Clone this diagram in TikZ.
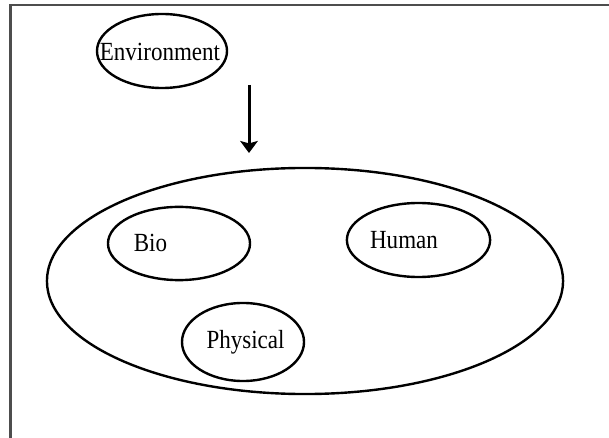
\documentclass[tikz,border=0pt]{standalone}
\usepackage{fontspec}
\setmainfont{Liberation Serif}[FakeStretch=0.88]
\usetikzlibrary{arrows.meta,shapes.geometric}
\definecolor{frameink}{HTML}{4D4D4D}

\begin{document}
\begin{tikzpicture}[x=.025cm,y=-.025cm,
    blob/.style={draw,ellipse,line width=.6mm,inner sep=0pt},
    word/.style={font=\fontsize{18.6}{21}\selectfont,inner sep=0pt}]
  \useasboundingbox (0,0) rectangle (609,438);

  % open frame: left and top sides
  \draw[frameink,line width=.5mm] (10.5,440) -- (10.5,5.5) -- (612,5.5);

  % source
  \node[blob,minimum width=3.25cm,minimum height=1.85cm] (env) at (162,51) {};
  \node[word] (envtext) at (160,52) {Environment};

  % the whole, with its three parts
  \node[blob,minimum width=12.9cm,minimum height=5.65cm] (whole) at (305,281) {};

  \node[blob,minimum width=3.55cm,minimum height=1.83cm] (bio) at (179,243.5) {};
  \node[word] (biotext) at (150.5,243) {Bio};

  \node[blob,minimum width=3.58cm,minimum height=1.85cm] (human) at (418.5,240) {};
  \node[word] (humantext) at (404,240) {Human};

  \node[blob,minimum width=3.05cm,minimum height=1.95cm] (physical) at (243,342) {};
  \node[word] (physicaltext) at (245.5,342) {Physical};

  % arrow into the whole
  \coordinate (drop) at (249,85);
  \coordinate (land) at (249,153);
  \draw[line width=.75mm,-{Stealth[width=4.4mm,length=3mm,inset=.6mm]}] (drop) -- (land);
\end{tikzpicture}
\end{document}
